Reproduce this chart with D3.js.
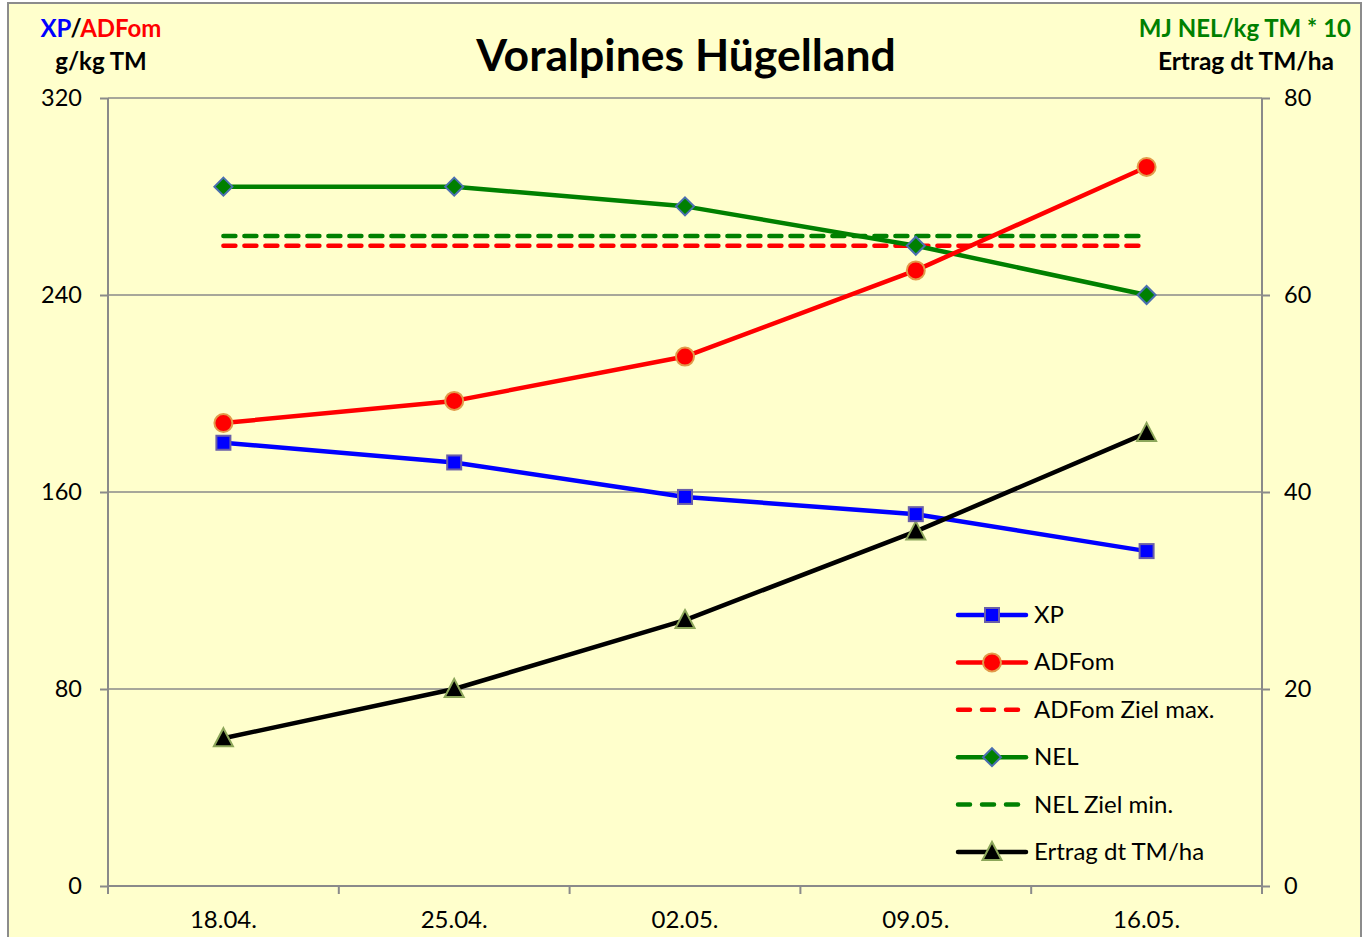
<!DOCTYPE html>
<html><head><meta charset="utf-8">
<script src="https://cdn.jsdelivr.net/npm/d3@7"></script>
<style>body{margin:0;background:#fff}svg{display:block}text{font-family:Lato,"Open Sans",sans-serif}</style>
</head><body><svg id="c" width="1369" height="937"></svg>
<script>
const categories = ["18.04.","25.04.","02.05.","09.05.","16.05."];
const xp = [180,172,158,151,136];
const adfom = [188,197,215,250,292];
const adfomZiel = [260,260,260,260,260];
const nel = [71,71,69,65,60];
const nelZiel = [66,66,66,66,66];
const ertrag = [15,20,27,36,46];
const leftTicks = [0,80,160,240,320];
const rightTicks = [0,20,40,60,80];
const legendLabels = ["XP","ADFom","ADFom Ziel max.","NEL","NEL Ziel min.","Ertrag dt TM/ha"];

const svg = d3.select("#c");
const L=108,R=1262,T=98,B=886;
svg.append("rect").attr("x",8).attr("y",3).attr("width",1353).attr("height",960)
  .attr("fill","#FFFFCC").attr("stroke","#8c8c8c").attr("stroke-width",2);

const x = d3.scaleBand().domain(categories).range([L,R]);
const yL = d3.scaleLinear().domain([0,320]).range([B,T]);
const yR = d3.scaleLinear().domain([0,80]).range([B,T]);
const cx = c=>x(c)+x.bandwidth()/2;
const grid="#8a8a8a";

svg.append("g").selectAll("line").data(leftTicks.filter(d=>d>0)).join("line")
  .attr("x1",L).attr("x2",R).attr("y1",d=>yL(d)).attr("y2",d=>yL(d))
  .attr("stroke",grid).attr("stroke-width",1.5);

const axL = svg.append("g").attr("transform",`translate(${L},0)`)
  .call(d3.axisLeft(yL).tickValues(leftTicks).tickSize(8).tickPadding(18));
const axR = svg.append("g").attr("transform",`translate(${R},0)`)
  .call(d3.axisRight(yR).tickValues(rightTicks).tickSize(8).tickPadding(14));
const axB = svg.append("g").attr("transform",`translate(0,${B})`)
  .call(d3.axisBottom(x).tickSize(0).tickPadding(25));
svg.append("g").selectAll("line").data(d3.range(categories.length+1)).join("line")
  .attr("x1",i=>L+i*x.step()).attr("x2",i=>L+i*x.step()).attr("y1",B).attr("y2",B+8)
  .attr("stroke",grid).attr("stroke-width",2);
[axL,axR,axB].forEach(a=>{
  a.selectAll("path").attr("stroke",grid).attr("stroke-width",2);
  a.selectAll("line").attr("stroke",grid).attr("stroke-width",2);
  a.selectAll("text").attr("font-size",23.5).attr("fill","#000").style("font-family","Lato, sans-serif");
});
axB.selectAll("text").attr("font-size",24);
axL.select(".domain").attr("d",`M0,${T}V${B}`);
axR.select(".domain").attr("d",`M0,${T}V${B}`);
axB.select(".domain").attr("d",`M${L},0H${R}`);

svg.append("text").attr("x",686).attr("y",71).attr("text-anchor","middle")
  .attr("font-size",44.5).attr("font-weight","bold").text("Voralpines Hügelland");
const tl = svg.append("text").attr("x",101).attr("y",37).attr("text-anchor","middle").attr("font-size",24).attr("font-weight","bold");
tl.append("tspan").attr("fill","#0000FF").text("XP");
tl.append("tspan").attr("fill","#000").text("/");
tl.append("tspan").attr("fill","#FF0000").text("ADFom");
svg.append("text").attr("x",101).attr("y",70).attr("text-anchor","middle").attr("font-size",24).attr("font-weight","bold").text("g/kg TM");
svg.append("text").attr("x",1351).attr("y",37).attr("text-anchor","end").attr("font-size",24).attr("font-weight","bold").attr("fill","#008000").text("MJ NEL/kg TM * 10");
svg.append("text").attr("x",1334).attr("y",70).attr("text-anchor","end").attr("font-size",24.5).attr("font-weight","bold").text("Ertrag dt TM/ha");

const line = ys => d3.line().x((d,i)=>cx(categories[i])).y(d=>ys(d));
const series = [
  {data:adfomZiel,ys:yL,color:"#FF0000",dash:"12,9"},
  {data:nelZiel,ys:yR,color:"#008000",dash:"12,9"},
  {data:nel,ys:yR,color:"#008000"},
  {data:adfom,ys:yL,color:"#FF0000"},
  {data:xp,ys:yL,color:"#0000FF"},
  {data:ertrag,ys:yR,color:"#000000"}
];
series.forEach(s=>{
  svg.append("path").datum(s.data).attr("d",line(s.ys)).attr("fill","none")
    .attr("stroke",s.color).attr("stroke-width",4.5).attr("stroke-dasharray",s.dash||null)
    .attr("stroke-linecap",s.dash?"round":"butt").attr("stroke-linejoin","round");
});

function marker(g,type,px,py){
  if(type==="square") g.append("rect").attr("x",px-7).attr("y",py-7).attr("width",14).attr("height",14)
    .attr("fill","#0000FF").attr("stroke","#6A5FA8").attr("stroke-width",2);
  if(type==="circle") g.append("circle").attr("cx",px).attr("cy",py).attr("r",9)
    .attr("fill","#FF0000").attr("stroke","#E29A4A").attr("stroke-width",2);
  if(type==="diamond") g.append("path").attr("d",`M${px},${py-9}L${px+9},${py}L${px},${py+9}L${px-9},${py}Z`)
    .attr("fill","#008000").attr("stroke","#4A6FB0").attr("stroke-width",2);
  if(type==="triangle") g.append("path").attr("d",`M${px},${py-10}L${px+9.5},${py+8}L${px-9.5},${py+8}Z`)
    .attr("fill","#000").attr("stroke","#8CA65A").attr("stroke-width",2);
}
const mg = svg.append("g");
ertrag.forEach((d,i)=>marker(mg,"triangle",cx(categories[i]),yR(d)));
nel.forEach((d,i)=>marker(mg,"diamond",cx(categories[i]),yR(d)));
adfom.forEach((d,i)=>marker(mg,"circle",cx(categories[i]),yL(d)));
xp.forEach((d,i)=>marker(mg,"square",cx(categories[i]),yL(d)));

const leg = [
  {c:"#0000FF",m:"square"},{c:"#FF0000",m:"circle"},{c:"#FF0000",dash:true},
  {c:"#008000",m:"diamond"},{c:"#008000",dash:true},{c:"#000000",m:"triangle"}
];
leg.forEach((l,i)=>{
  const yy = 615 + i*47.4;
  const g = svg.append("g");
  g.append("line").attr("x1",958).attr("x2",1026).attr("y1",yy).attr("y2",yy)
    .attr("stroke",l.c).attr("stroke-width",4.5).attr("stroke-linecap","round")
    .attr("stroke-dasharray",l.dash?"12,12":null);
  if(l.m) marker(g,l.m,992,yy);
  g.append("text").attr("x",1034).attr("y",yy+8).attr("font-size",24).text(legendLabels[i]);
});
</script></body></html>
